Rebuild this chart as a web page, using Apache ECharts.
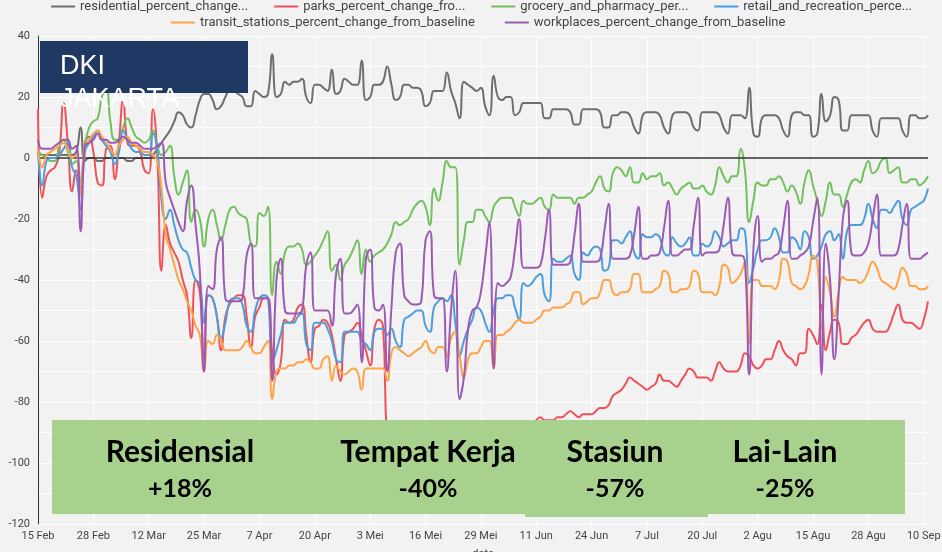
<!DOCTYPE html>
<html><head><meta charset="utf-8">
<script src="https://cdn.jsdelivr.net/npm/echarts@6/dist/echarts.min.js"></script>
<style>html,body{margin:0;padding:0;background:#f2f2f2}#c{width:942px;height:552px}</style>
</head><body><div id="c"></div>
<script>
const monthNames = ['Jan','Feb','Mar','Apr','Mei','Jun','Jul','Agu','Sep','Okt','Nov','Des'];
const seriesNames = ['residential_percent_change_from_baseline','parks_percent_change_from_baseline','grocery_and_pharmacy_percent_change_from_baseline','retail_and_recreation_percent_change_from_baseline','transit_stations_percent_change_from_baseline','workplaces_percent_change_from_baseline'];
const legendLabels = ['residential_percent_change...','parks_percent_change_fro...','grocery_and_pharmacy_per...','retail_and_recreation_perce...','transit_stations_percent_change_from_baseline','workplaces_percent_change_from_baseline'];
const boxTitles = ['Residensial','Tempat Kerja','Stasiun','Lai-Lain'];
const boxValues = ['+18%','-40%','-57%','-25%'];

const residential = [
2,1,1,1,1,1,1,1,1,2,
10,-1,0,0,-1,-1,0,0,0,0,
0,-1,-1,0,0,0,0,1,3,5,
7,9,12,15,14,11,10,14,19,21,
21,19,16,17,20,22,22,21,20,17,
17,22,21,20,21,34,20,21,25,24,
25,25,26,20,18,24,24,23,22,29,
21,22,26,25,24,24,32,19,20,24,
24,25,30,24,19,20,24,24,23,23,
22,17,18,22,22,22,28,22,18,13,
25,24,23,22,23,17,14,27,20,19,
20,20,14,15,18,18,18,18,18,13,
13,16,16,16,16,15,11,11,16,16,
16,16,15,10,10,14,14,15,15,14,
10,8,14,15,15,15,14,10,8,14,
15,15,15,14,10,9,15,15,15,15,
14,10,8,14,14,14,13,23,8,7,
13,14,14,14,13,9,7,14,15,15,
14,14,7,8,21,12,14,20,19,9,
9,14,14,14,14,14,9,7,13,13,
13,13,13,9,7,14,14,13,13,14];

const parks = [
16,-13,-6,-4,-3,2,18,5,-11,-4,
-10,5,7,2,-8,-9,3,4,-7,5,
19,5,4,4,2,-4,-5,16,1,-37,
-22,-28,-31,-34,-40,-45,-59,-40,-44,-66,
-45,-46,-52,-63,-52,-48,-46,-45,-45,-52,
-62,-52,-49,-46,-46,-64,-71,-67,-53,-54,
-53,-49,-48,-58,-67,-56,-55,-53,-54,-58,
-66,-73,-58,-57,-56,-54,-58,-63,-68,-56,
-53,-55,-92,-93,-95,-96,-94,-94,-93,-94,
-95,-96,-96,-95,-95,-94,-96,-95,-96,-98,
-97,-96,-95,-95,-94,-95,-95,-95,-93,-92,
-92,-91,-92,-92,-90,-89,-88,-86,-85,-86,
-86,-86,-85,-85,-84,-83,-84,-85,-84,-84,
-84,-83,-82,-82,-81,-78,-77,-76,-74,-72,
-73,-74,-75,-76,-75,-74,-71,-73,-73,-74,
-75,-73,-71,-69,-70,-72,-72,-72,-73,-70,
-67,-69,-70,-70,-70,-68,-64,-65,-68,-69,
-68,-66,-66,-63,-60,-63,-65,-66,-68,-64,
-64,-56,-58,-61,-48,-63,-57,-53,-54,-61,
-61,-59,-58,-56,-54,-53,-56,-57,-57,-57,
-55,-51,-48,-53,-54,-54,-55,-56,-53,-47];

const grocery = [
2,1,0,-1,-1,4,6,2,-2,-1,
-8,4,10,12,13,20,23,12,6,6,
10,13,10,7,6,5,6,9,4,1,
2,4,-6,-12,-8,-4,-21,-17,-20,-29,
-20,-17,-22,-27,-22,-17,-16,-18,-19,-20,
-28,-29,-18,-19,-16,-45,-34,-38,-31,-29,
-29,-28,-30,-35,-34,-32,-30,-27,-24,-37,
-35,-40,-35,-33,-30,-27,-38,-30,-34,-32,
-31,-30,-28,-25,-21,-22,-21,-20,-17,-15,
-14,-16,-22,-10,-14,-8,-1,-3,-3,-35,
-27,-21,-21,-17,-17,-19,-21,-16,-14,-13,
-13,-13,-16,-19,-14,-15,-15,-14,-13,-16,
-17,-12,-13,-13,-13,-13,-15,-13,-13,-12,
-11,-8,-6,-10,-11,-5,-3,-4,-6,-3,
-8,-8,-5,-7,-6,-6,-5,-9,-8,-10,
-12,-10,-9,-8,-10,-10,-9,-11,-12,-9,
-3,-6,-8,-6,-6,3,-4,-21,-14,-8,
-9,-9,-7,-7,-6,-8,-11,-9,-11,-15,
-8,-4,-9,-14,-19,-14,-8,-12,-12,-16,
-12,-8,-7,-8,-4,-1,-5,-4,-1,0,
-5,-4,-3,-8,-8,-7,-7,-9,-8,-6];

const retail = [
3,-9,-1,0,0,1,3,5,-3,-6,
-17,2,5,7,9,6,4,2,-2,2,
9,6,3,2,2,1,1,8,3,-14,
-20,-17,-22,-27,-30,-31,-36,-40,-41,-54,
-45,-46,-52,-59,-54,-47,-46,-46,-48,-55,
-57,-50,-46,-45,-46,-67,-63,-58,-54,-54,
-54,-52,-51,-61,-63,-54,-54,-54,-56,-60,
-66,-67,-57,-57,-57,-57,-60,-61,-63,-57,
-56,-56,-58,-56,-60,-62,-53,-52,-51,-50,
-50,-55,-57,-49,-47,-46,-47,-45,-54,-65,
-60,-56,-53,-49,-50,-54,-57,-50,-46,-46,
-45,-45,-49,-53,-41,-42,-41,-39,-38,-45,
-47,-33,-34,-34,-33,-32,-38,-40,-31,-32,
-30,-29,-30,-37,-36,-27,-27,-28,-26,-24,
-31,-33,-25,-26,-26,-25,-26,-31,-32,-26,
-28,-29,-28,-26,-32,-32,-28,-29,-28,-24,
-26,-29,-28,-27,-27,-23,-24,-41,-36,-30,
-27,-27,-26,-23,-26,-31,-31,-26,-27,-30,
-24,-26,-33,-32,-29,-25,-24,-27,-25,-33,
-24,-22,-22,-22,-20,-15,-20,-23,-17,-17,
-18,-16,-14,-20,-22,-17,-16,-15,-14,-10];

const transit = [
3,-3,1,2,3,4,5,3,0,1,
-12,4,6,8,9,7,5,3,1,4,
6,7,5,4,3,2,2,1,-1,-10,
-25,-30,-35,-40,-43,-47,-50,-55,-58,-70,
-60,-61,-58,-60,-63,-63,-63,-63,-62,-60,
-62,-64,-64,-62,-60,-79,-70,-69,-69,-68,
-68,-67,-67,-66,-67,-69,-69,-66,-65,-73,
-68,-70,-71,-70,-69,-70,-76,-69,-69,-69,
-69,-69,-73,-64,-62,-63,-64,-65,-64,-63,
-62,-60,-63,-64,-62,-62,-65,-59,-57,-65,
-72,-66,-64,-64,-62,-60,-60,-69,-58,-58,
-57,-56,-54,-53,-54,-54,-54,-53,-52,-50,
-50,-49,-49,-49,-48,-47,-44,-44,-48,-47,
-46,-46,-44,-40,-40,-44,-45,-44,-44,-43,
-38,-38,-44,-44,-44,-43,-42,-37,-38,-44,
-44,-43,-43,-42,-37,-38,-44,-44,-44,-45,
-42,-35,-36,-41,-40,-38,-34,-61,-40,-40,
-42,-42,-42,-43,-40,-33,-34,-41,-42,-43,
-42,-38,-32,-34,-56,-39,-44,-52,-44,-39,
-40,-40,-40,-41,-40,-37,-34,-36,-40,-41,
-42,-43,-40,-36,-38,-42,-42,-43,-43,-42];

const workplaces = [
6,3,3,3,4,5,6,6,3,4,
-24,4,5,6,8,6,6,5,5,6,
7,6,5,5,4,3,3,3,4,5,
-8,-13,-17,-21,-24,-14,-9,-22,-37,-70,
-42,-43,-30,-26,-46,-47,-47,-47,-46,-32,
-28,-46,-46,-46,-46,-73,-40,-33,-50,-51,
-51,-51,-50,-35,-31,-50,-50,-50,-50,-55,
-38,-33,-51,-51,-50,-48,-67,-33,-30,-49,
-50,-48,-70,-49,-31,-28,-45,-47,-48,-48,
-47,-27,-24,-45,-46,-46,-70,-50,-37,-79,
-72,-56,-50,-49,-44,-33,-21,-69,-41,-42,
-41,-39,-30,-20,-36,-36,-36,-36,-35,-27,
-17,-35,-35,-35,-35,-34,-25,-15,-34,-34,
-34,-34,-33,-24,-15,-33,-33,-33,-33,-32,
-25,-16,-33,-33,-32,-32,-31,-23,-14,-32,
-32,-31,-30,-30,-22,-13,-32,-31,-31,-31,
-30,-22,-13,-31,-32,-32,-34,-71,-30,-19,
-34,-33,-33,-32,-31,-23,-14,-33,-33,-32,
-31,-29,-21,-13,-71,-28,-40,-66,-45,-20,
-14,-31,-32,-32,-31,-28,-20,-12,-32,-32,
-32,-32,-30,-22,-15,-33,-33,-33,-32,-31];

const seriesData = [residential, parks, grocery, retail, transit, workplaces];
const colors = ['#6e6e6e','#ef5159','#72c05e','#4d9ddc','#ffa347','#9c5ab4'];

// date categories (15 Feb 2020 onward, one per day)
const dates = [];
for (let i = 0; i < residential.length; i++) {
  const dt = new Date(Date.UTC(2020, 1, 15 + i));
  dates.push(dt.getUTCDate() + ' ' + monthNames[dt.getUTCMonth()]);
}

const chart = echarts.init(document.getElementById('c'), null, {renderer: 'canvas'});
const legendCommon = {
  icon: 'rect', itemWidth: 24, itemHeight: 2, padding: 0,
  textStyle: {fontFamily: 'Roboto', fontSize: 13, color: '#444'},
  formatter: n => legendLabels[seriesNames.indexOf(n)]
};
const graphic = [
  {type: 'rect', left: 40, top: 41, shape: {width: 208, height: 52}, style: {fill: '#203864'}, z: 100},
  {type: 'text', x: 60, y: 50, z: 101, style: {text: 'DKI\nJAKARTA', fill: '#fff', font: '27px "Liberation Sans", Arial, sans-serif', lineHeight: 33, verticalAlign: 'top'}},
  {type: 'rect', left: 52, top: 420, shape: {width: 853, height: 94}, style: {fill: '#a9d18e'}, z: 100},
  {type: 'rect', left: 525, top: 420, shape: {width: 183, height: 97}, style: {fill: '#a9d18e'}, z: 100}
];
const boxCenters = [180, 428, 615, 785];
boxTitles.forEach((t, i) => {
  graphic.push({type: 'text', x: boxCenters[i], y: 452, z: 102, style: {text: t, fill: '#000', font: 'bold 30px Lato, sans-serif', align: 'center', verticalAlign: 'middle'}});
  graphic.push({type: 'text', x: boxCenters[i], y: 489, z: 102, style: {text: boxValues[i], fill: '#000', font: 'bold 25px Lato, sans-serif', align: 'center', verticalAlign: 'middle'}});
});

chart.setOption({
  animation: false,
  backgroundColor: '#f2f2f2',
  legend: [
    Object.assign({data: seriesNames.slice(0, 4), left: 51, top: 0, itemGap: 26}, legendCommon),
    Object.assign({data: seriesNames.slice(4), left: 171, top: 16, itemGap: 30}, legendCommon)
  ],
  grid: {left: 38, right: 14, top: 36, bottom: 28, outerBoundsMode: 'none', containLabel: false},
  xAxis: {
    type: 'category', data: dates, boundaryGap: false,
    axisLine: {show: false}, axisTick: {show: false},
    axisLabel: {interval: 12, color: '#444', fontSize: 11, fontFamily: 'Roboto', margin: 7},
    splitLine: {show: true, interval: 12, lineStyle: {color: '#ffffff', width: 1}},
    name: 'date', nameLocation: 'middle', nameGap: 25,
    nameTextStyle: {color: '#444', fontSize: 11, fontFamily: 'Roboto'}
  },
  yAxis: {
    type: 'value', min: -120, max: 40, interval: 10,
    axisLine: {show: true, lineStyle: {color: '#333', width: 1}},
    axisTick: {show: false},
    axisLabel: {color: '#444', fontSize: 11, fontFamily: 'Roboto', formatter: v => (v % 20 === 0 ? String(v) : '')},
    splitLine: {lineStyle: {color: '#ffffff', width: 1}}
  },
  series: seriesData.map((d, i) => {
    const s = {
      type: 'line', name: seriesNames[i], data: d, smooth: 0.5,
      showSymbol: false, symbol: 'none', z: 2 + i,
      lineStyle: {width: 2, color: colors[i]}, itemStyle: {color: colors[i]}
    };
    if (i === 0) {
      s.markLine = {silent: true, symbol: 'none', label: {show: false},
        lineStyle: {color: '#333', width: 1.5, type: 'solid'}, data: [{yAxis: 0}]};
    }
    return s;
  }),
  graphic: graphic
});
</script></body></html>
